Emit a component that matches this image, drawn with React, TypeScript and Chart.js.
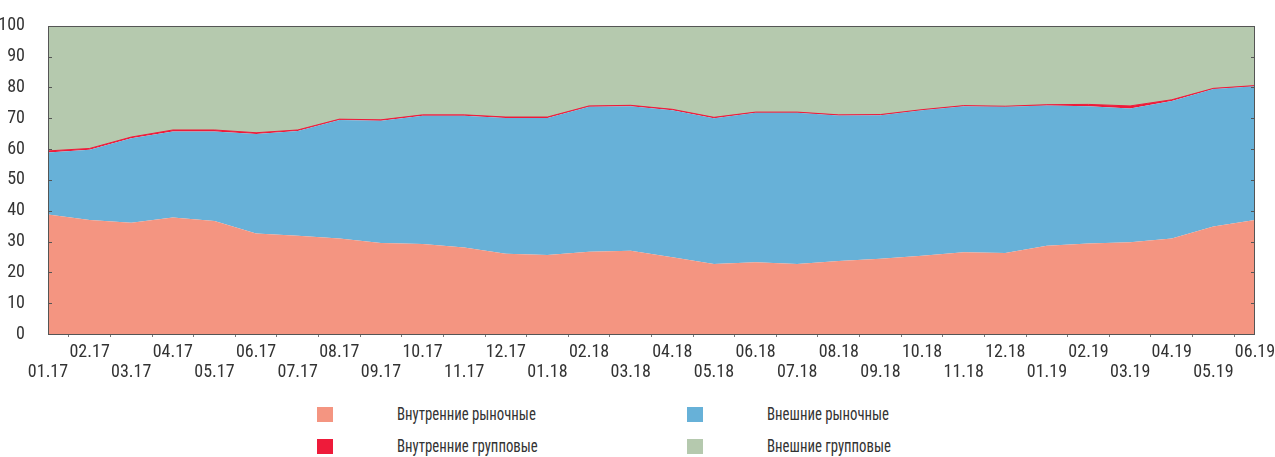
import React, { useEffect, useRef } from "react";
import { Chart, registerables } from "chart.js";

Chart.register(...registerables);

const months = [
  "01.17", "02.17", "03.17", "04.17", "05.17", "06.17", "07.17", "08.17", "09.17", "10.17",
  "11.17", "12.17", "01.18", "02.18", "03.18", "04.18", "05.18", "06.18", "07.18", "08.18",
  "09.18", "10.18", "11.18", "12.18", "01.19", "02.19", "03.19", "04.19", "05.19", "06.19",
];

const domesticMarket = [
  38.8, 37.0, 36.1, 37.8, 36.7, 32.6, 31.9, 31.0, 29.5, 29.2,
  28.1, 26.0, 25.6, 26.7, 27.0, 24.9, 22.7, 23.3, 22.7, 23.7,
  24.4, 25.4, 26.5, 26.3, 28.6, 29.4, 29.8, 31.0, 34.9, 37.0,
];

const externalMarket = [
  20.1, 22.8, 27.4, 27.9, 29.0, 32.3, 34.0, 38.4, 39.7, 41.6,
  42.7, 44.1, 44.5, 47.0, 46.9, 47.7, 47.3, 48.5, 49.1, 47.2,
  46.6, 47.2, 47.4, 47.4, 45.5, 44.5, 43.4, 44.6, 44.6, 43.4,
];

const domesticGroup = [
  0.5, 0.4, 0.4, 0.5, 0.5, 0.4, 0.3, 0.3, 0.3, 0.3,
  0.3, 0.3, 0.3, 0.3, 0.3, 0.3, 0.3, 0.2, 0.2, 0.2,
  0.2, 0.2, 0.2, 0.2, 0.3, 0.6, 0.8, 0.4, 0.2, 0.2,
];

const externalGroup = [
  40.6, 39.8, 36.1, 33.8, 33.8, 34.7, 33.8, 30.3, 30.5, 28.9,
  28.9, 29.6, 29.6, 26.0, 25.8, 27.1, 29.7, 28.0, 28.0, 28.9,
  28.8, 27.2, 25.9, 26.1, 25.6, 25.5, 26.0, 24.0, 20.3, 19.4,
];

const seriesNames = ["Внутренние рыночные", "Внешние рыночные", "Внутренние групповые", "Внешние групповые"];
const seriesColors = ["#F49581", "#67B1D8", "#EE1B3A", "#B5C9AE"];

const FONT = '"Roboto Condensed", "Open Sans Condensed", "Liberation Sans Narrow", sans-serif';
const TEXT = "#333333";

const frame = {
  id: "frame",
  afterDraw(chart: any) {
    const { ctx, chartArea } = chart;
    const { left, top, right, bottom } = chartArea;
    const y = chart.scales.y;
    ctx.save();
    ctx.strokeStyle = "#555555";
    ctx.lineWidth = 1;
    ctx.strokeRect(Math.round(left) + 0.5, Math.round(top) + 0.5, Math.round(right - left) - 1, Math.round(bottom - top));
    ctx.beginPath();
    y.ticks.forEach((t: any) => {
      const py = Math.round(y.getPixelForValue(t.value)) + 0.5;
      ctx.moveTo(left, py);
      ctx.lineTo(left + 4, py);
      ctx.moveTo(right - 4, py);
      ctx.lineTo(right, py);
    });
    ctx.stroke();
    ctx.restore();
  },
};

export default function App() {
  const ref = useRef<HTMLCanvasElement>(null);

  useEffect(() => {
    if (!ref.current) return;
    const data = [domesticMarket, externalMarket, domesticGroup, externalGroup];
    const chart = new Chart(ref.current, {
      type: "line",
      data: {
        labels: months,
        datasets: data.map((d, i) => ({
          label: seriesNames[i],
          data: d,
          backgroundColor: seriesColors[i],
          borderColor: seriesColors[i],
          borderWidth: i === 2 ? 1 : 0,
          pointRadius: 0,
          tension: 0,
          fill: i === 0 ? "origin" : "-1",
        })),
      },
      options: {
        animation: false,
        responsive: false,
        maintainAspectRatio: false,
        layout: { padding: { top: 23, right: 20, left: 0, bottom: 0 } },
        plugins: { legend: { display: false }, tooltip: { enabled: false } },
        scales: {
          x: {
            offset: false,
            afterFit: (s: any) => {
              s.height = 56;
              s.paddingRight = 0;
              s.paddingLeft = 0;
            },
            grid: { offset: true, drawOnChartArea: false, tickLength: 3, color: "#777777" },
            border: { display: false },
            ticks: {
              autoSkip: false,
              maxRotation: 0,
              minRotation: 0,
              padding: 5,
              color: TEXT,
              font: { family: FONT, size: 18, lineHeight: 1.12 },
              callback: (_v: any, i: number) => (i % 2 === 0 ? ["", months[i]] : [months[i], ""]),
            },
          },
          y: {
            stacked: true,
            min: 0,
            max: 100,
            afterFit: (s: any) => { s.width = 48; },
            grid: { display: false },
            border: { display: false },
            ticks: {
              stepSize: 10,
              padding: 15,
              color: TEXT,
              font: { family: FONT, size: 18 },
            },
          },
        },
      },
      plugins: [frame],
    });
    return () => chart.destroy();
  }, []);

  const legendItems = [
    { i: 0, left: 317, top: 407 },
    { i: 1, left: 687, top: 407 },
    { i: 2, left: 317, top: 439 },
    { i: 3, left: 687, top: 439 },
  ];

  return (
    <div style={{ position: "absolute", left: 0, top: 0, width: 1275, height: 457, background: "#fff" }}>
      <canvas ref={ref} width={1275} height={390} style={{ position: "absolute", left: 0, top: 0, width: 1275, height: 390 }} />
      {legendItems.map(({ i, left, top }) => (
        <React.Fragment key={i}>
          <div style={{ position: "absolute", left, top, width: 16, height: 15, background: seriesColors[i] }} />
          <div
            style={{
              position: "absolute",
              left: left + 80,
              top: top - 3,
              height: 20,
              lineHeight: "20px",
              fontFamily: FONT,
              fontSize: 18,
              color: TEXT,
              whiteSpace: "nowrap",
              transform: "scaleX(0.82)",
              transformOrigin: "left center",
            }}
          >
            {seriesNames[i]}
          </div>
        </React.Fragment>
      ))}
    </div>
  );
}
